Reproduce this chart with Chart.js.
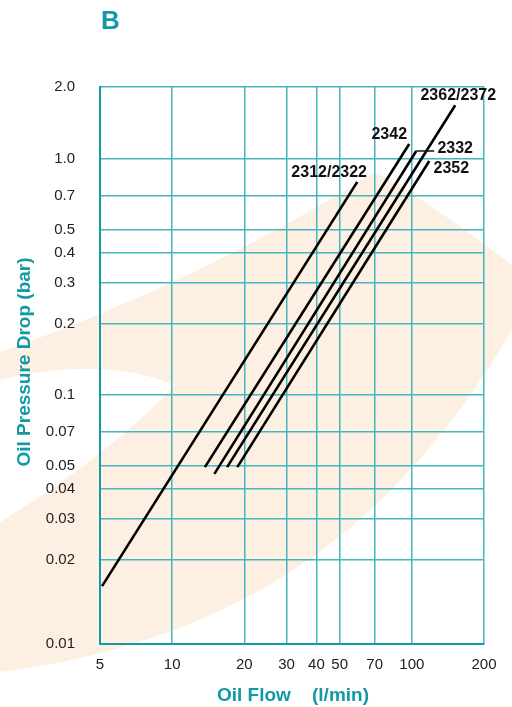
<!DOCTYPE html>
<html><head><meta charset="utf-8">
<script src="https://cdn.jsdelivr.net/npm/chart.js@4/dist/chart.umd.min.js"></script>
<style>html,body{margin:0;padding:0;background:#fff;}#wrap{position:relative;width:512px;height:707px;}</style>
</head><body><div id="wrap"><canvas id="c" width="512" height="707"></canvas></div>
<script>
// ---- data ----
const xTickValues = [5, 10, 20, 30, 40, 50, 70, 100, 200];
const yAxisMin = 0.00881;   // bottom edge of the plot (printed as "0.01")
const yAxisMax = 2.018;     // top edge of the plot (printed as "2.0")
const yTickValues = [yAxisMin, 0.02, 0.03, 0.04, 0.05, 0.07, 0.1, 0.2, 0.3, 0.4, 0.5, 0.7, 1.0, yAxisMax];
const yTickLabels = ['0.01','0.02','0.03','0.04','0.05','0.07','0.1','0.2','0.3','0.4','0.5','0.7','1.0','2.0'];

const seriesNames = ['2312/2322', '2342', '2332', '2362/2372', '2352'];
const flow2312 = [5.1, 59.2];   const drop2312 = [0.0155, 0.80];
const flow2342 = [13.7, 97.5];  const drop2342 = [0.0495, 1.158];
const flow2332 = [15.0, 104.3]; const drop2332 = [0.0463, 1.081];
const flow2362 = [16.95, 151.7]; const drop2362 = [0.0495, 1.69];
const flow2352 = [18.7, 118.2]; const drop2352 = [0.0495, 0.98];

// label anchors in data units
const labelFlow = [45.2, 80.5, 151.7, 156.2, 146.1];
const labelDrop = [0.872, 1.264, 1.102, 1.849, 0.907];
const leaderFlowEnd = 124; // end of the short leader for 2332

const TEAL = '#119aa6';
const GRID = '#45b5be';

function pts(xs, ys){ return xs.map((x,i)=>({x:x, y:ys[i]})); }
const allFlows = [flow2312, flow2342, flow2332, flow2362, flow2352];
const allDrops = [drop2312, drop2342, drop2332, drop2362, drop2352];

const bgPlugin = {
  id:'bg',
  beforeDraw(chart){
    const ctx = chart.ctx;
    ctx.save();
    ctx.fillStyle = '#fff';
    ctx.fillRect(0,0,chart.width,chart.height);
    ctx.fillStyle = '#fdf0e3';
    ctx.beginPath();
    ctx.moveTo(0, 352);
    ctx.quadraticCurveTo(200, 282, 375, 172);
    ctx.quadraticCurveTo(420, 195, 512, 265);
    ctx.lineTo(512, 330);
    ctx.bezierCurveTo(400, 520, 250, 640, 0, 672);
    ctx.lineTo(0, 522);
    ctx.quadraticCurveTo(110, 455, 175, 385);
    ctx.quadraticCurveTo(100, 355, 0, 380);
    ctx.closePath();
    ctx.fill();
    ctx.restore();
  }
};

const textPlugin = {
  id:'texts',
  afterDraw(chart){
    const ctx = chart.ctx;
    const xs = chart.scales.x, ys = chart.scales.y;
    ctx.save();
    // panel letter
    ctx.fillStyle = TEAL;
    ctx.font = 'bold 26px "Liberation Sans", Arial, sans-serif';
    ctx.textBaseline = 'alphabetic';
    ctx.textAlign = 'left';
    ctx.fillText('B', 101, 29);
    // axis titles
    ctx.font = 'bold 19px "Liberation Sans", Arial, sans-serif';
    ctx.textBaseline = 'middle';
    ctx.fillText('Oil Flow', 217, 696);
    ctx.fillText('(l/min)', 312, 696);
    ctx.save();
    ctx.translate(25, 362);
    ctx.rotate(-Math.PI/2);
    ctx.textAlign = 'center';
    ctx.fillText('Oil Pressure Drop (bar)', 0, 0);
    ctx.restore();
    // series labels
    ctx.fillStyle = '#111';
    ctx.font = 'bold 16px "Liberation Sans", Arial, sans-serif';
    ctx.textAlign = 'center';
    ctx.textBaseline = 'middle';
    seriesNames.forEach((n,i)=>{
      ctx.fillText(n, xs.getPixelForValue(labelFlow[i]), ys.getPixelForValue(labelDrop[i]));
    });
    // leader for 2332
    ctx.strokeStyle = '#111';
    ctx.lineWidth = 1.5;
    ctx.beginPath();
    const ly = ys.getPixelForValue(drop2332[1]);
    ctx.moveTo(xs.getPixelForValue(flow2332[1]), ly);
    ctx.lineTo(xs.getPixelForValue(leaderFlowEnd), ly);
    ctx.stroke();
    ctx.restore();
  }
};

new Chart(document.getElementById('c'), {
  type:'line',
  data:{
    datasets: seriesNames.map((n,i)=>({
      label:n,
      data: pts(allFlows[i], allDrops[i]),
      borderColor:'#000',
      borderWidth:2.6,
      pointRadius:0,
      fill:false,
      tension:0
    }))
  },
  options:{
    responsive:false,
    devicePixelRatio:1,
    animation:false,
    layout:{padding:{top:87, right:28, left:0, bottom:0}},
    plugins:{legend:{display:false}, tooltip:{enabled:false}, title:{display:false}},
    scales:{
      x:{
        type:'logarithmic', min:5, max:200,
        afterBuildTicks(s){ s.ticks = xTickValues.map(v=>({value:v})); },
        afterFit(s){ s.height = 63; },
        ticks:{ autoSkip:false, maxRotation:0, padding:12, color:'#222',
          font:{family:'"Liberation Sans Narrow", "Liberation Sans", Arial, sans-serif', size:15},
          callback:(v)=>String(v) },
        grid:{ color:GRID, lineWidth:1.5, drawTicks:false },
        border:{ color:TEAL, width:2 }
      },
      y:{
        type:'logarithmic', min:yAxisMin, max:yAxisMax,
        afterBuildTicks(s){ s.ticks = yTickValues.map(v=>({value:v})); },
        afterFit(s){ s.width = 100; },
        ticks:{ autoSkip:false, padding:25, color:'#222',
          font:{family:'"Liberation Sans", Arial, sans-serif', size:15},
          callback:(v,i)=>yTickLabels[i] },
        grid:{ color:GRID, lineWidth:1.5, drawTicks:false },
        border:{ color:TEAL, width:2 }
      }
    }
  },
  plugins:[bgPlugin, textPlugin]
});
</script></body></html>
